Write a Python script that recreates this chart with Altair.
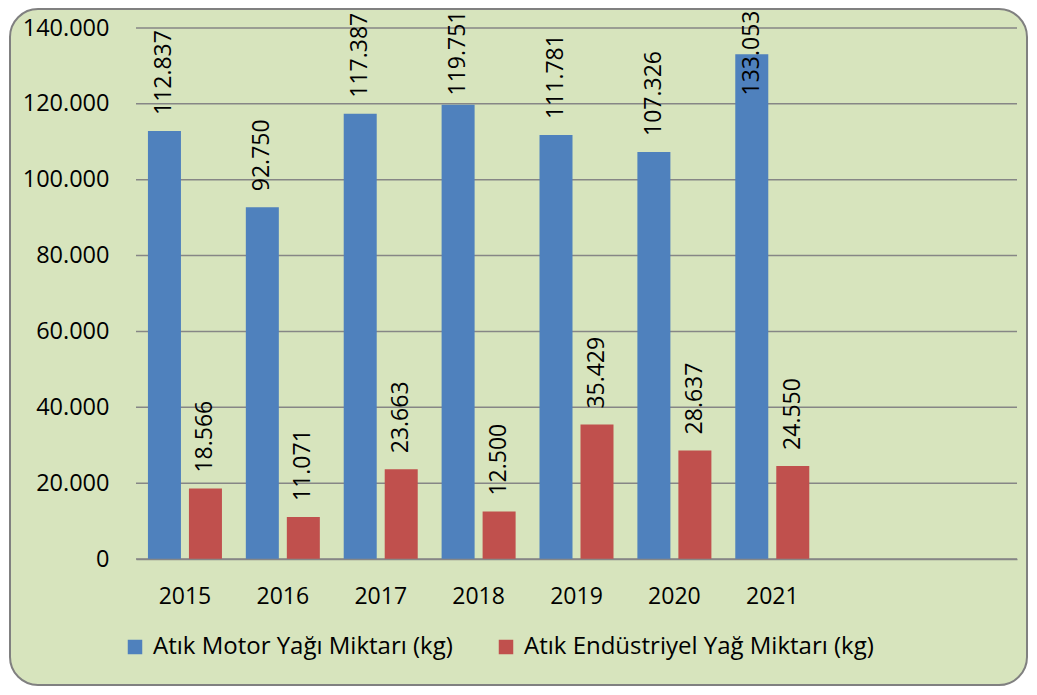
import altair as alt
import pandas as pd

years = ["2015", "2016", "2017", "2018", "2019", "2020", "2021"]
empty_slots = ["2022", "2023"]
motor = [112837, 92750, 117387, 119751, 111781, 107326, 133053]
endustri = [18566, 11071, 23663, 12500, 35429, 28637, 24550]
series = ["Atık Motor Yağı Miktarı (kg)", "Atık Endüstriyel Yağ Miktarı (kg)"]
colors = ["#4F81BD", "#C0504D"]
y_ticks = [0, 20000, 40000, 60000, 80000, 100000, 120000, 140000]

rows = []
for i, yr in enumerate(years):
    rows.append({"year": yr, "series": series[0], "value": motor[i]})
    rows.append({"year": yr, "series": series[1], "value": endustri[i]})
df = pd.DataFrame(rows)
grid_df = pd.DataFrame({"value": y_ticks})

FONT = "Open Sans"
W, H = 881, 531
xdomain = years + empty_slots
yscale = alt.Scale(domain=[0, 140000], nice=False)
yaxis = alt.Axis(title=None, values=y_ticks,
                 labelExpr="replace(format(datum.value, ','), ',', '.')",
                 labelFont=FONT, labelFontSize=23.5, labelColor="#000000",
                 ticks=False, domain=False, grid=False,
                 labelPadding=27, zindex=1)

background = alt.Chart(pd.DataFrame({"a": [0]})).mark_rect(
    fill="#D7E4BD", stroke="#808080", strokeWidth=2, cornerRadius=28, clip=False
).encode(
    x=alt.value(-126), x2=alt.value(891), y=alt.value(-19), y2=alt.value(657)
)

grid = alt.Chart(grid_df).mark_rule(color="#868686", strokeWidth=1.5).encode(
    y=alt.Y("value:Q", scale=yscale, axis=yaxis),
    x=alt.value(0), x2=alt.value(W),
)

base = alt.Chart(df).encode(
    x=alt.X("year:N", sort=xdomain,
            scale=alt.Scale(domain=xdomain, paddingInner=0.244, paddingOuter=0.122),
            axis=alt.Axis(title=None, labelExpr="indexof(['2022','2023'], datum.value) >= 0 ? '' : datum.value",
                          labelAngle=0, labelFont=FONT, labelFontSize=23, labelColor="#000000",
                          ticks=False, domainColor="#868686", domainWidth=1.5, grid=False,
                          labelPadding=26, zindex=1)),
    xOffset=alt.XOffset("series:N", sort=series,
                        scale=alt.Scale(domain=series, paddingInner=0.195, paddingOuter=0)),
)

bars = base.mark_bar().encode(
    y=alt.Y("value:Q", scale=yscale, axis=yaxis),
    color=alt.Color("series:N", sort=series,
                    scale=alt.Scale(domain=series, range=colors),
                    legend=alt.Legend(title=None, orient="none", direction="horizontal",
                                      legendX=-13, legendY=607, symbolType="square",
                                      symbolSize=210, symbolStrokeWidth=0,
                                      labelFont=FONT, labelFontSize=24, labelColor="#000000",
                                      labelOffset=6, columnPadding=41, labelLimit=0, zindex=1)),
)

labels = base.transform_calculate(
    ly="min(datum.value, 118000)",
    txt="replace(format(datum.value, ','), ',', '.')",
).mark_text(
    angle=270, align="left", baseline="middle", dx=16, font=FONT, fontSize=23, color="#000000"
).encode(
    y=alt.Y("ly:Q", scale=yscale, axis=yaxis),
    text="txt:N",
)

chart = alt.layer(background, grid, bars, labels).properties(
    width=W, height=H,
    padding={"left": 128, "top": 20, "right": 12, "bottom": 128},
    autosize=alt.AutoSizeParams(type="none"),
    background="white",
).configure_view(stroke=None)

chart.save("out.html", embed_options={"renderer": "svg", "actions": False})
